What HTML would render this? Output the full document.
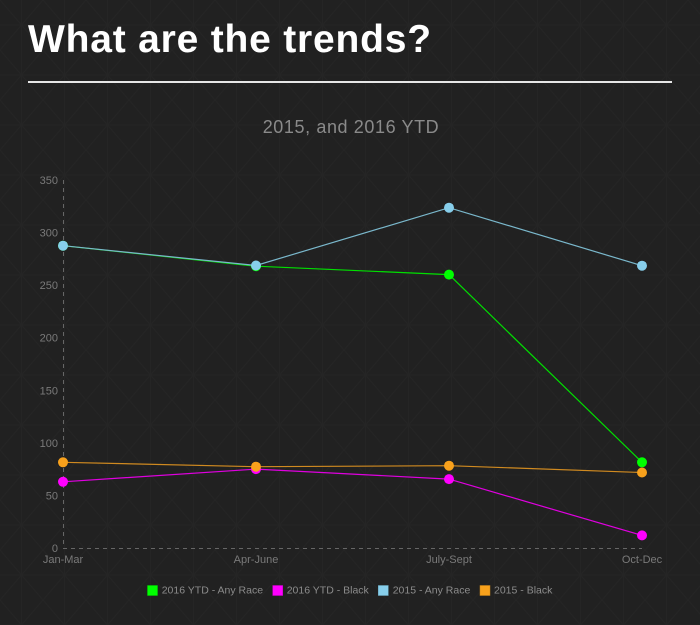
<!DOCTYPE html>
<html>
<head>
<meta charset="utf-8">
<style>
html,body{margin:0;padding:0;background:#212121;}
body{width:700px;height:625px;overflow:hidden;font-family:"Liberation Sans",sans-serif;}
svg{display:block;}
</style>
</head>
<body>
<svg width="700" height="625" viewBox="0 0 700 625" xmlns="http://www.w3.org/2000/svg">
  <defs>
    <pattern id="bgp" x="0" y="0" width="43" height="50" patternUnits="userSpaceOnUse">
      <rect width="43" height="50" fill="#212121"/>
      <g stroke="#252525" stroke-width="1" fill="none">
        <line x1="21.5" y1="0" x2="21.5" y2="50"/>
        <line x1="0" y1="25" x2="43" y2="25"/>
        <line x1="0" y1="0" x2="43" y2="50"/>
        <line x1="43" y1="0" x2="0" y2="50"/>
      </g>
    </pattern>
  </defs>
  <rect width="700" height="625" fill="url(#bgp)"/>

  <!-- Title -->
  <text x="28" y="52" font-family="Liberation Sans, sans-serif" font-weight="bold" font-size="39" letter-spacing="0.8" fill="#ffffff">What are the trends?</text>
  <rect x="28" y="81" width="644" height="2" fill="#e6e6e6"/>

  <!-- Subtitle -->
  <text x="351" y="133" text-anchor="middle" font-family="Liberation Sans, sans-serif" font-size="18" letter-spacing="0.6" fill="#8a8a8a">2015, and 2016 YTD</text>

  <!-- Axes -->
  <line x1="63.5" y1="180" x2="63.5" y2="548" stroke="#666" stroke-width="1" stroke-dasharray="4,4"/>
  <line x1="63" y1="548.5" x2="642" y2="548.5" stroke="#666" stroke-width="1" stroke-dasharray="4,4"/>

  <!-- Y tick labels -->
  <g font-family="Liberation Sans, sans-serif" font-size="11" fill="#7a7a7a" text-anchor="end">
    <text x="58" y="552">0</text>
    <text x="58" y="499.4">50</text>
    <text x="58" y="446.9">100</text>
    <text x="58" y="394.3">150</text>
    <text x="58" y="341.7">200</text>
    <text x="58" y="289.1">250</text>
    <text x="58" y="236.6">300</text>
    <text x="58" y="184">350</text>
  </g>

  <!-- X tick labels -->
  <g font-family="Liberation Sans, sans-serif" font-size="11" fill="#7a7a7a" text-anchor="middle">
    <text x="63" y="563">Jan-Mar</text>
    <text x="256" y="563">Apr-June</text>
    <text x="449" y="563">July-Sept</text>
    <text x="642" y="563">Oct-Dec</text>
  </g>

  <!-- Series: 2016 YTD - Any Race -->
  <polyline points="63,245.7 256,266.2 449,274.6 642,462.3" fill="none" stroke="#00e000" stroke-width="1.2"/>
  <g fill="#00ff00">
    <circle cx="63" cy="245.7" r="5"/>
    <circle cx="256" cy="266.2" r="5"/>
    <circle cx="449" cy="274.6" r="5"/>
    <circle cx="642" cy="462.3" r="5"/>
  </g>

  <!-- Series: 2016 YTD - Black -->
  <polyline points="63,481.8 256,469.1 449,479.1 642,535.4" fill="none" stroke="#e000e0" stroke-width="1.2"/>
  <g fill="#ff00ff">
    <circle cx="63" cy="481.8" r="5"/>
    <circle cx="256" cy="469.1" r="5"/>
    <circle cx="449" cy="479.1" r="5"/>
    <circle cx="642" cy="535.4" r="5"/>
  </g>

  <!-- Series: 2015 - Any Race -->
  <polyline points="63,245.7 256,265.5 449,207.7 642,265.7" fill="none" stroke="#7ab8cc" stroke-width="1.2"/>
  <g fill="#87ceeb">
    <circle cx="63" cy="245.7" r="5"/>
    <circle cx="256" cy="265.5" r="5"/>
    <circle cx="449" cy="207.7" r="5"/>
    <circle cx="642" cy="265.7" r="5"/>
  </g>

  <!-- Series: 2015 - Black -->
  <polyline points="63,462.3 256,466.7 449,465.7 642,472.5" fill="none" stroke="#d08a20" stroke-width="1.2"/>
  <g fill="#f8a11c">
    <circle cx="63" cy="462.3" r="5"/>
    <circle cx="256" cy="466.7" r="5"/>
    <circle cx="449" cy="465.7" r="5"/>
    <circle cx="642" cy="472.5" r="5"/>
  </g>

  <!-- Legend -->
  <g font-family="Liberation Sans, sans-serif" font-size="10.5" fill="#8c8c8c">
    <rect x="147.5" y="585.5" width="10" height="10" fill="#00ff00" stroke="#00cc00" stroke-width="0.5"/>
    <text x="161.7" y="593.5">2016 YTD - Any Race</text>
    <rect x="272.7" y="585.5" width="10" height="10" fill="#ff00ff" stroke="#cc00cc" stroke-width="0.5"/>
    <text x="286.7" y="593.5">2016 YTD - Black</text>
    <rect x="378.3" y="585.5" width="10" height="10" fill="#87ceeb" stroke="#6aa9c0" stroke-width="0.5"/>
    <text x="392.7" y="593.5">2015 - Any Race</text>
    <rect x="480" y="585.5" width="10" height="10" fill="#f8a11c" stroke="#c98318" stroke-width="0.5"/>
    <text x="494" y="593.5">2015 - Black</text>
  </g>
</svg>
</body>
</html>
